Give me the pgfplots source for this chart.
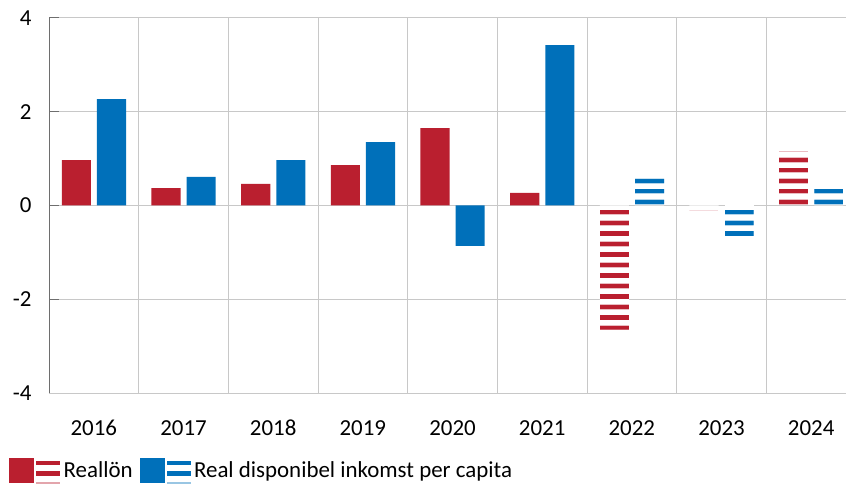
\documentclass[border=0pt]{standalone}
\usepackage{fontspec}
\setmainfont{Carlito}
\usepackage{pgfplots}
\pgfplotsset{compat=1.18}
\definecolor{myred}{HTML}{BA1F2F}
\definecolor{myblue}{HTML}{0070BA}
\definecolor{gridgray}{HTML}{C8C8C8}
\definecolor{axgray}{HTML}{6E6E6E}

% stripe rectangle at pgf level (no TikZ styles, so no recursion)
% #1 colour, #2 anchor side (south/north), #3 y-offset start (bp), #4 y-offset end (bp)
\newcommand\stripe[4]{%
  \pgfsetfillcolor{#1}%
  \pgfpathrectanglecorners
    {\pgfpointadd{\pgfpointanchor{path picture bounding box}{#2 west}}{\pgfpoint{0pt}{#3bp}}}%
    {\pgfpointadd{\pgfpointanchor{path picture bounding box}{#2 east}}{\pgfpoint{0pt}{#4bp}}}%
  \pgfusepath{fill}}

\tikzset{
  stripesup/.style={fill=white, draw=none, path picture={
    \foreach \k in {0,...,40}{
      \pgfmathsetmacro\ya{\k*10.5+0.9}\pgfmathsetmacro\yb{\k*10.5+6.4}%
      \stripe{#1!30}{south}{\ya}{\yb}%
      \pgfmathsetmacro\ya{\k*10.5+1.5}\pgfmathsetmacro\yb{\k*10.5+5.8}%
      \stripe{#1}{south}{\ya}{\yb}%
    }}},
  stripesdown/.style={fill=white, draw=none, path picture={
    \foreach \k in {0,...,40}{
      \pgfmathsetmacro\ya{-\k*10.5-4.1}\pgfmathsetmacro\yb{-\k*10.5-9.6}%
      \stripe{#1!30}{north}{\ya}{\yb}%
      \pgfmathsetmacro\ya{-\k*10.5-4.7}\pgfmathsetmacro\yb{-\k*10.5-9.0}%
      \stripe{#1}{north}{\ya}{\yb}%
    }}},
}

\begin{document}
\begin{tikzpicture}
\begin{axis}[
  scale only axis, width=807bp, height=375bp,
  xmin=-0.5, xmax=8.5, ymin=-4, ymax=4,
  ybar, bar width=0.325,
  axis lines*=left,
  x axis line style={gridgray, line width=1bp},
  y axis line style={axgray, line width=1bp},
  xtick={0,...,8}, xticklabels={2016,2017,2018,2019,2020,2021,2022,2023,2024},
  x tick style={draw=none},
  minor xtick={0.5,1.5,...,8.5},
  xminorgrids, minor x grid style={gridgray, line width=1bp},
  ytick={-4,-2,0,2,4}, yticklabels={-4,-2,0,2,4},
  ymajorgrids, major y grid style={gridgray, line width=1bp},
  y tick style={axgray, line width=1bp}, major tick length=10bp,
  tick label style={font=\fontsize{23}{27}\selectfont},
  /pgf/number format/assume math mode=true,
  xticklabel style={anchor=base, yshift=-32bp},
  yticklabel style={xshift=-14bp},
  legend columns=2,
  legend style={draw=none, fill=none, at={(axis description cs:0,0)}, anchor=west,
    xshift=-40bp, yshift=-78bp, inner sep=0pt,
    font=\fontsize{23}{27}\selectfont,
    nodes={inner xsep=4bp, inner ysep=0pt},
    /tikz/every even column/.append style={column sep=3bp}},
  legend cell align=left,
]
\addplot[fill=myred, draw=none, bar shift=-0.195, forget plot] coordinates
  {(0,0.97) (1,0.37) (2,0.46) (3,0.86) (4,1.65) (5,0.27)};
\addplot[stripesup=myred, bar shift=-0.195, forget plot] coordinates
  {(8,1.15)};
\addplot[stripesdown=myred, bar shift=-0.195, forget plot] coordinates
  {(6,-2.65) (7,-0.10)};
\addplot[fill=myblue, draw=none, bar shift=0.197, forget plot] coordinates
  {(0,2.27) (1,0.61) (2,0.97) (3,1.35) (4,-0.86) (5,3.42)};
\addplot[stripesup=myblue, bar shift=0.197, forget plot] coordinates
  {(6,0.58) (8,0.37)};
\addplot[stripesdown=myblue, bar shift=0.197, forget plot] coordinates
  {(7,-0.65)};
\addlegendimage{legend image code/.code={
  \fill[myred] (0bp,-12bp) rectangle (24bp,12bp);
  \fill[myred] (27bp,5.7bp) rectangle (50bp,9.3bp);
  \fill[myred] (27bp,-4.7bp) rectangle (50bp,-1.3bp);
  \fill[myred!40] (27bp,-13.7bp) rectangle (50bp,-11.7bp);}}
\addlegendentry{Reallön}
\addlegendimage{legend image code/.code={
  \fill[myblue] (0bp,-12bp) rectangle (24bp,12bp);
  \fill[myblue] (27bp,5.7bp) rectangle (50bp,9.3bp);
  \fill[myblue] (27bp,-4.7bp) rectangle (50bp,-1.3bp);
  \fill[myblue!40] (27bp,-13.7bp) rectangle (50bp,-11.7bp);}}
\addlegendentry{Real disponibel inkomst per capita}
\end{axis}
\pgfresetboundingbox
\path ([xshift=-49bp,yshift=-91bp]current axis.south west) rectangle ++(846bp,484bp);
\end{tikzpicture}
\end{document}
